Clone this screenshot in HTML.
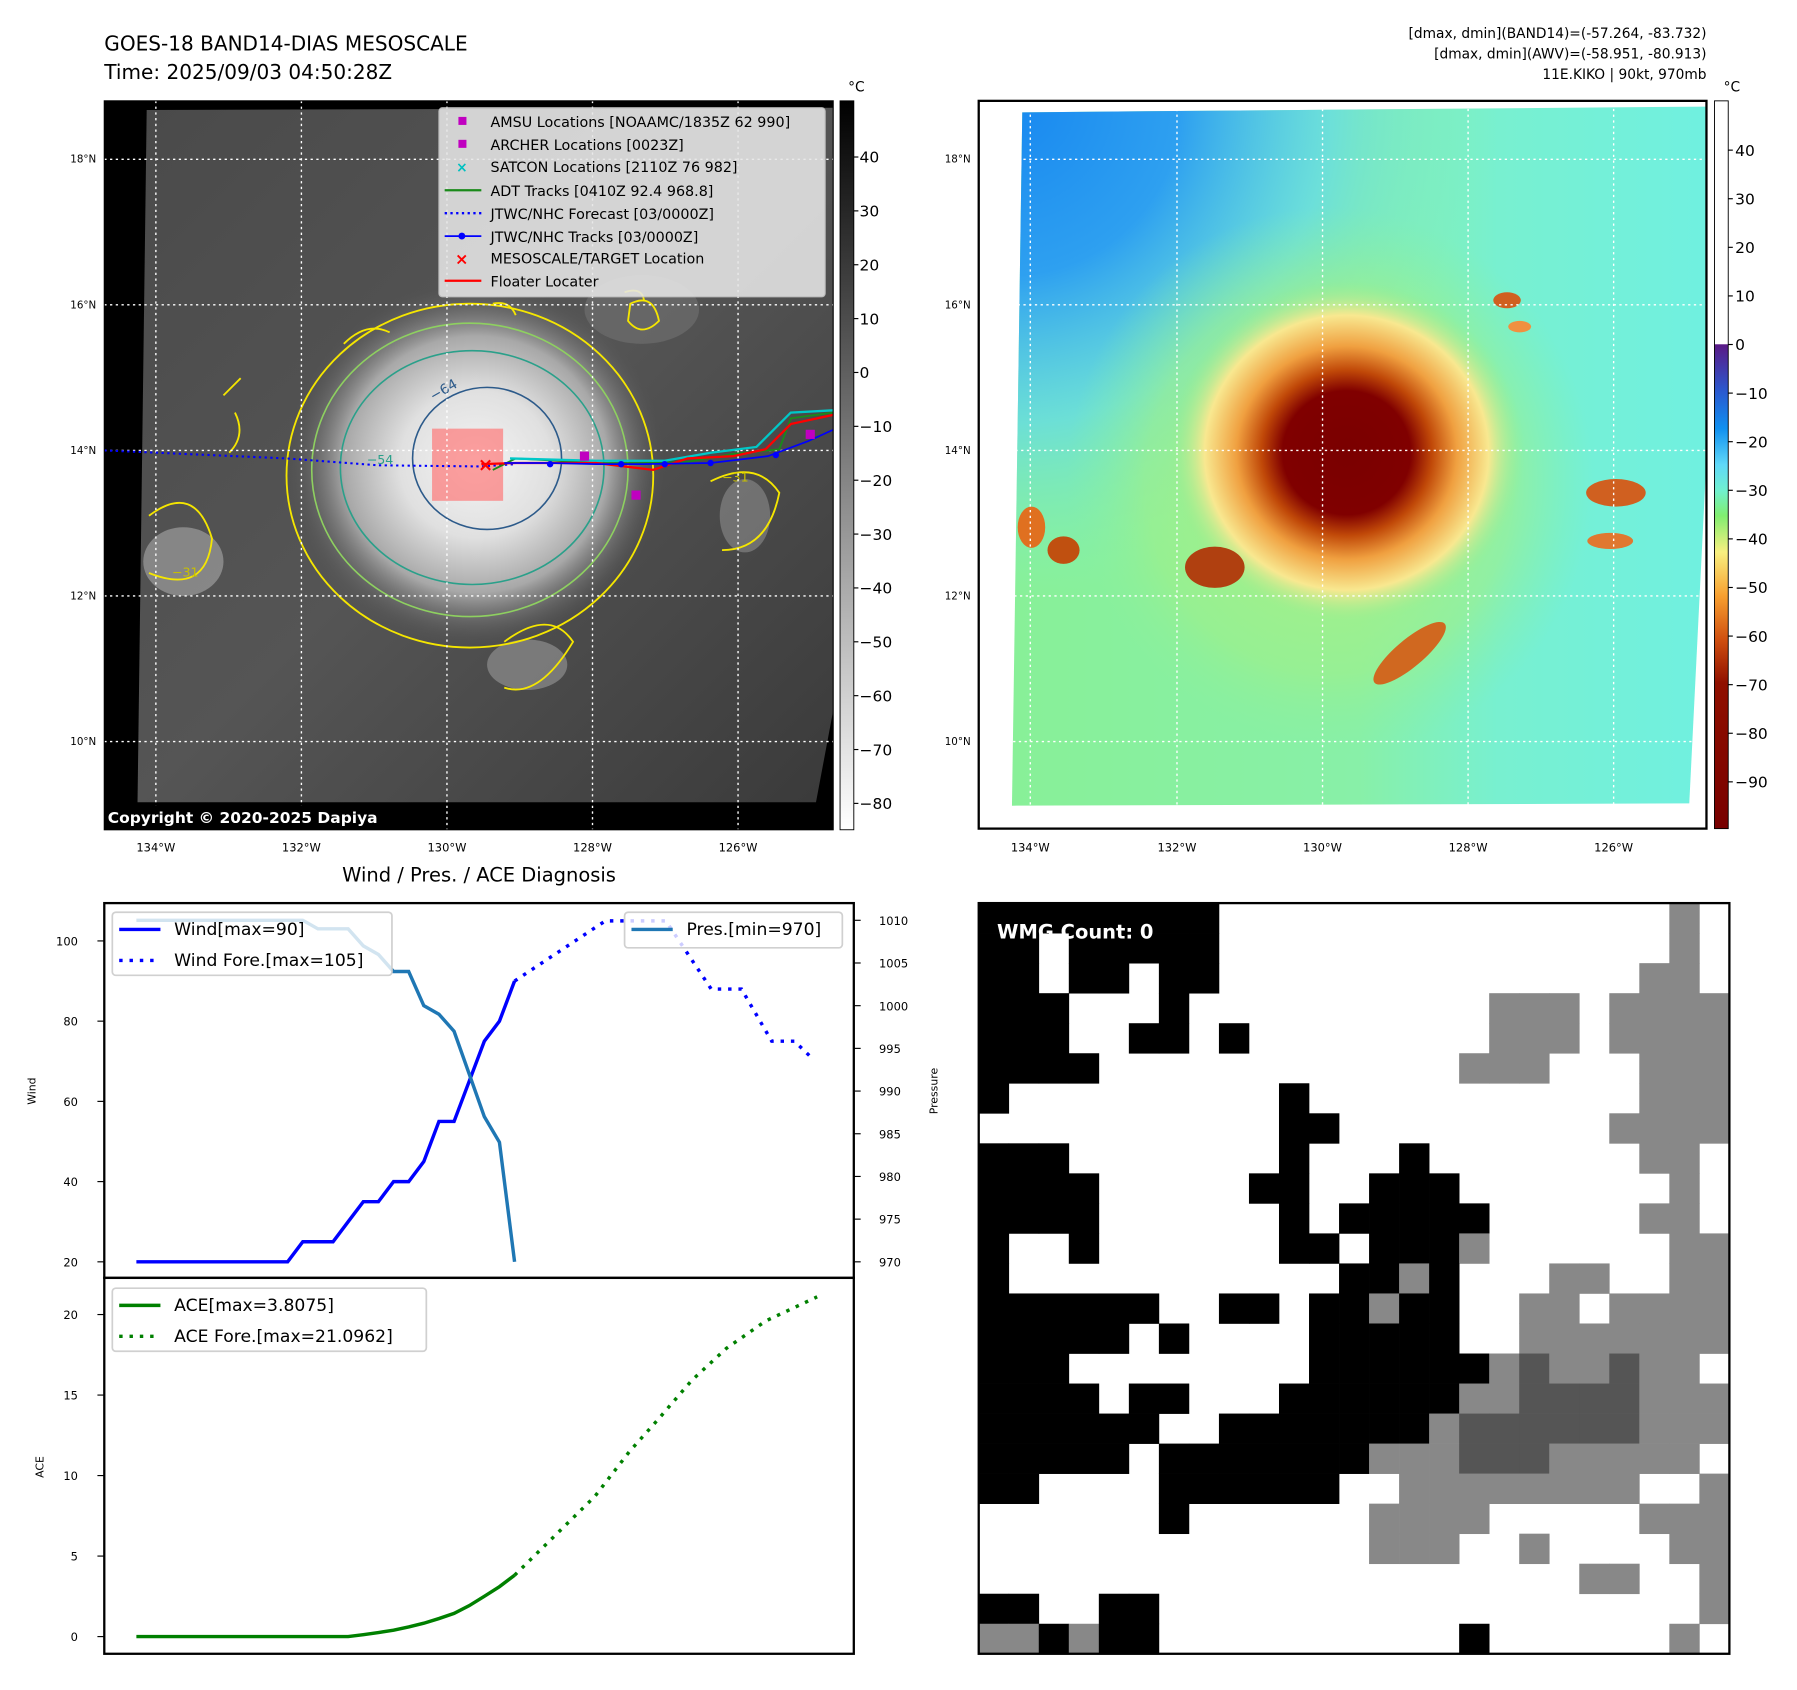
<!DOCTYPE html>
<html><head><meta charset="utf-8"><title>GOES-18 KIKO</title>
<style>
html,body{margin:0;padding:0;background:#fff;}
svg{display:block;font-family:"DejaVu Sans","Liberation Sans",sans-serif;}
</style></head>
<body>
<svg id="root" width="1797" height="1690" viewBox="0 0 1568 1474.6" preserveAspectRatio="none" xmlns="http://www.w3.org/2000/svg">
<defs>
  <linearGradient id="cbGray" x1="0" y1="0" x2="0" y2="1">
    <stop offset="0" stop-color="#000"/><stop offset="1" stop-color="#fff"/>
  </linearGradient>
  <linearGradient id="cbColor" x1="0" y1="0" x2="0" y2="1">
    <stop offset="0" stop-color="#fff"/><stop offset="0.334" stop-color="#fff"/>
    <stop offset="0.335" stop-color="#5a1a86"/>
    <stop offset="0.40" stop-color="#2a5ad0"/>
    <stop offset="0.45" stop-color="#1090f0"/>
    <stop offset="0.50" stop-color="#60d8f8"/>
    <stop offset="0.535" stop-color="#70f0d0"/>
    <stop offset="0.57" stop-color="#80ee70"/>
    <stop offset="0.62" stop-color="#f8f080"/>
    <stop offset="0.68" stop-color="#f8a030"/>
    <stop offset="0.74" stop-color="#d05010"/>
    <stop offset="0.80" stop-color="#901000"/>
    <stop offset="1" stop-color="#780000"/>
  </linearGradient>
  <radialGradient id="cloudGray" cx="0.5" cy="0.5" r="0.5">
    <stop offset="0" stop-color="#f4f4f4"/><stop offset="0.4" stop-color="#e0e0e0"/>
    <stop offset="0.7" stop-color="#a8a8a8"/><stop offset="1" stop-color="#555" stop-opacity="0"/>
  </radialGradient>
  <radialGradient id="stormColor" cx="0.5" cy="0.5" r="0.5">
    <stop offset="0" stop-color="#7a0000"/><stop offset="0.36" stop-color="#800000"/>
    <stop offset="0.48" stop-color="#c04808"/><stop offset="0.62" stop-color="#f0a040"/>
    <stop offset="0.8" stop-color="#f8e890"/><stop offset="1" stop-color="#90ee90" stop-opacity="0"/>
  </radialGradient>
  <radialGradient id="blueCorner" gradientUnits="userSpaceOnUse" cx="880" cy="90" r="430">
    <stop offset="0" stop-color="#1888f0"/><stop offset="0.35" stop-color="#2ea0f0"/>
    <stop offset="0.65" stop-color="#60d8f0" stop-opacity="0.7"/><stop offset="1" stop-color="#80f0c0" stop-opacity="0"/>
  </radialGradient>
  <radialGradient id="greenHalo" cx="0.5" cy="0.5" r="0.5">
    <stop offset="0" stop-color="#b0f080"/><stop offset="0.7" stop-color="#a0f088" stop-opacity="0.6"/><stop offset="1" stop-color="#88f0a0" stop-opacity="0"/>
  </radialGradient>
  <linearGradient id="rightBg" x1="0" y1="0" x2="1" y2="0">
    <stop offset="0" stop-color="#88f098"/><stop offset="0.5" stop-color="#88f0a8"/>
    <stop offset="0.7" stop-color="#78f0d0"/><stop offset="1" stop-color="#70f0e0"/>
  </linearGradient>
  <linearGradient id="leftBg" x1="0" y1="0" x2="1" y2="1">
    <stop offset="0" stop-color="#4a4a4a"/><stop offset="0.5" stop-color="#555"/><stop offset="1" stop-color="#3a3a3a"/>
  </linearGradient>
</defs>

<!-- ===== Top-left map ===== -->
<g>
  <text x="91" y="44" font-size="17.5">GOES-18 BAND14-DIAS MESOSCALE</text>
  <text x="91" y="69" font-size="17.5">Time: 2025/09/03 04:50:28Z</text>
  <rect x="91" y="88" width="636" height="636" fill="#000"/>
  <polygon points="128,96 727,94 727,620 712,700 120,700" fill="url(#leftBg)"/>
  <ellipse cx="560" cy="270" rx="50" ry="30" fill="#777" opacity="0.5"/>
  <ellipse cx="415" cy="405" rx="165" ry="160" fill="url(#cloudGray)"/>
  <ellipse cx="160" cy="490" rx="35" ry="30" fill="#aaa" opacity="0.6"/>
  <ellipse cx="460" cy="580" rx="35" ry="22" fill="#999" opacity="0.6"/>
  <ellipse cx="650" cy="450" rx="22" ry="32" fill="#999" opacity="0.5"/>
  <g fill="none">
    <ellipse cx="410" cy="415" rx="160" ry="150" stroke="#f5e600" stroke-width="1.6"/>
    <ellipse cx="410" cy="410" rx="138" ry="128" stroke="#8ed060" stroke-width="1.4"/>
    <ellipse cx="412" cy="408" rx="115" ry="102" stroke="#2aa08a" stroke-width="1.4"/>
    <ellipse cx="425" cy="400" rx="65" ry="62" stroke="#2c5a8a" stroke-width="1.4"/>
    <path d="M195,345 L210,330 M205,360 Q215,380 200,395 M300,300 Q320,280 340,290 M130,450 Q170,420 185,470 Q180,520 130,500 M440,560 Q480,530 500,560 Q470,610 440,600 M620,420 Q660,400 680,430 Q670,480 630,480" stroke="#f5e600" stroke-width="1.6"/>
    <path d="M550,265 Q570,255 575,280 Q560,295 548,280 Z M430,265 Q445,262 450,275 M545,255 Q560,250 562,262" stroke="#f5e600" stroke-width="1.6"/>
  </g>
  <rect x="377" y="374" width="62" height="63" fill="#ff7070" opacity="0.65"/>
  <text x="378" y="350" font-size="12" fill="#2c5a8a" transform="rotate(-30 378 350)">−64</text>
  <text x="320" y="405" font-size="11" fill="#2aa08a">−54</text>
  <text x="150" y="503" font-size="11" fill="#c8c000">−31</text>
  <text x="630" y="420" font-size="11" fill="#c8c000">−31</text>
  <g stroke="#fff" stroke-width="1.2" stroke-dasharray="2,3">
    <line x1="136" y1="88" x2="136" y2="724"/><line x1="263" y1="88" x2="263" y2="724"/>
    <line x1="390" y1="88" x2="390" y2="724"/><line x1="517" y1="88" x2="517" y2="724"/>
    <line x1="644" y1="88" x2="644" y2="724"/>
    <line x1="91" y1="139" x2="727" y2="139"/><line x1="91" y1="266" x2="727" y2="266"/>
    <line x1="91" y1="393" x2="727" y2="393"/><line x1="91" y1="520" x2="727" y2="520"/>
    <line x1="91" y1="647" x2="727" y2="647"/>
  </g>
  <polyline points="91,393 250,400 330,406 420,407 450,405" fill="none" stroke="#0000ff" stroke-width="1.8" stroke-dasharray="2,3"/>
  <polyline points="430,410 450,400 520,404 560,404 600,403 640,396 680,392 690,365 727,360" fill="none" stroke="#1a8a1a" stroke-width="1.6"/>
  <polyline points="445,400 520,402 580,402 620,395 660,390 690,360 727,358" fill="none" stroke="#00c8c8" stroke-width="2"/>
  <polyline points="420,405 450,404 520,404 570,410 600,400 640,398 668,392 690,370 727,362" fill="none" stroke="#ff0000" stroke-width="2"/>
  <polyline points="440,404 480,404 520,405 560,405 620,404 670,398 705,385 727,375" fill="none" stroke="#0000ff" stroke-width="1.5"/>
  <g fill="#0000ff"><circle cx="480" cy="405" r="2.8"/><circle cx="542" cy="405" r="2.8"/><circle cx="580" cy="405" r="2.8"/><circle cx="620" cy="404" r="2.8"/><circle cx="677" cy="397" r="2.8"/></g>
  <g fill="#c000c0"><rect x="506" y="394" width="8" height="8"/><rect x="551" y="428" width="8" height="8"/><rect x="703" y="375" width="8" height="8"/></g>
  <text x="417" y="411" font-size="16" font-weight="bold" fill="#ff0000">×</text>
  <g>
    <rect x="383" y="94" width="337" height="165" rx="3" fill="#e6e6e6" opacity="0.88" stroke="#ccc"/>
    <g font-size="12.5" fill="#000">
      <rect x="400" y="102" width="7" height="7" fill="#c000c0"/><text x="428" y="111">AMSU Locations [NOAAMC/1835Z 62 990]</text>
      <rect x="400" y="122" width="7" height="7" fill="#c000c0"/><text x="428" y="131">ARCHER Locations [0023Z]</text>
      <text x="398" y="150" fill="#00c0c0" font-size="12" font-weight="bold">×</text><text x="428" y="150">SATCON Locations [2110Z 76 982]</text>
      <line x1="388" y1="166" x2="420" y2="166" stroke="#1a8a1a" stroke-width="2"/><text x="428" y="171">ADT Tracks [0410Z 92.4 968.8]</text>
      <line x1="388" y1="186" x2="420" y2="186" stroke="#0000ff" stroke-width="2" stroke-dasharray="2,3"/><text x="428" y="191">JTWC/NHC Forecast [03/0000Z]</text>
      <line x1="388" y1="206" x2="420" y2="206" stroke="#0000ff" stroke-width="1.5"/><circle cx="403" cy="206" r="3" fill="#0000ff"/><text x="428" y="211">JTWC/NHC Tracks [03/0000Z]</text>
      <text x="397" y="231" fill="#ff0000" font-size="14" font-weight="bold">×</text><text x="428" y="230">MESOSCALE/TARGET Location</text>
      <line x1="388" y1="245" x2="420" y2="245" stroke="#ff0000" stroke-width="2"/><text x="428" y="250">Floater Locater</text>
    </g>
  </g>
  <rect x="91" y="703" width="270" height="21" fill="#000"/>
  <text x="94" y="718" font-size="13.5" font-weight="bold" fill="#fff">Copyright © 2020-2025 Dapiya</text>
  <rect x="91" y="88" width="636" height="636" fill="none" stroke="#000" stroke-width="1"/>
  <g font-size="9" text-anchor="end">
    <text x="84" y="142">18°N</text><text x="84" y="269">16°N</text><text x="84" y="396">14°N</text><text x="84" y="523">12°N</text><text x="84" y="650">10°N</text>
  </g>
  <g font-size="10" text-anchor="middle">
    <text x="136" y="743">134°W</text><text x="263" y="743">132°W</text><text x="390" y="743">130°W</text><text x="517" y="743">128°W</text><text x="644" y="743">126°W</text>
  </g>
  <g>
    <rect x="733" y="88" width="12" height="636" fill="url(#cbGray)" stroke="#000" stroke-width="0.8"/>
    <text x="740" y="80" font-size="12">°C</text>
    <g font-size="13.5" fill="#000" id="cbGrayLabels"></g>
  </g>
</g>

<!-- ===== Top-right map ===== -->
<g>
  <g font-size="12" text-anchor="end">
    <text x="1489" y="33">[dmax, dmin](BAND14)=(-57.264, -83.732)</text>
    <text x="1489" y="51">[dmax, dmin](AWV)=(-58.951, -80.913)</text>
    <text x="1489" y="69">11E.KIKO | 90kt, 970mb</text>
  </g>
  <rect x="854" y="88" width="635" height="635" fill="#fff"/>
  <polygon points="892,98 1489,93 1489,400 1474,701 883,703" fill="url(#rightBg)"/>
  <polygon points="892,98 1489,93 1489,400 1474,701 883,703" fill="url(#blueCorner)"/>
  <ellipse cx="1160" cy="420" rx="230" ry="240" fill="url(#greenHalo)"/>
  <ellipse cx="1175" cy="395" rx="155" ry="150" fill="url(#stormColor)"/>
  <ellipse cx="1060" cy="495" rx="26" ry="18" fill="#b04010"/>
  <ellipse cx="1230" cy="570" rx="40" ry="12" transform="rotate(-40 1230 570)" fill="#d06820"/>
  <ellipse cx="1410" cy="430" rx="26" ry="12" fill="#d06020"/>
  <ellipse cx="1405" cy="472" rx="20" ry="7" fill="#e07830"/>
  <ellipse cx="1315" cy="262" rx="12" ry="7" fill="#d06020"/>
  <ellipse cx="1326" cy="285" rx="10" ry="5" fill="#f09040"/>
  <ellipse cx="928" cy="480" rx="14" ry="12" fill="#c05010"/>
  <ellipse cx="900" cy="460" rx="12" ry="18" fill="#e07020"/>
  <g stroke="#fff" stroke-width="1.2" stroke-dasharray="2,3">
    <line x1="899" y1="95" x2="899" y2="703"/><line x1="1027" y1="95" x2="1027" y2="703"/>
    <line x1="1154" y1="95" x2="1154" y2="703"/><line x1="1281" y1="95" x2="1281" y2="703"/>
    <line x1="1408" y1="95" x2="1408" y2="703"/>
    <line x1="888" y1="139" x2="1489" y2="139"/><line x1="888" y1="266" x2="1489" y2="266"/>
    <line x1="886" y1="393" x2="1489" y2="393"/><line x1="885" y1="520" x2="1489" y2="520"/>
    <line x1="884" y1="647" x2="1480" y2="647"/>
  </g>
  <rect x="854" y="88" width="635" height="635" fill="none" stroke="#000" stroke-width="2"/>
  <g font-size="9" text-anchor="end">
    <text x="847" y="142">18°N</text><text x="847" y="269">16°N</text><text x="847" y="396">14°N</text><text x="847" y="523">12°N</text><text x="847" y="650">10°N</text>
  </g>
  <g font-size="10" text-anchor="middle">
    <text x="899" y="743">134°W</text><text x="1027" y="743">132°W</text><text x="1154" y="743">130°W</text><text x="1281" y="743">128°W</text><text x="1408" y="743">126°W</text>
  </g>
  <g>
    <rect x="1496" y="88" width="12" height="635" fill="url(#cbColor)" stroke="#000" stroke-width="0.8"/>
    <text x="1504" y="80" font-size="12">°C</text>
    <g font-size="13.5" fill="#000" id="cbColorLabels"></g>
  </g>
</g>

<!-- ===== Bottom-left chart ===== -->
<g id="diag">
  <text x="418" y="769" font-size="17" text-anchor="middle">Wind / Pres. / ACE Diagnosis</text>
</g>

<!-- ===== Bottom-right WMG grid ===== -->
<g id="wmg"></g>
</svg>

<script>
const windIdx = [0,1,2,3,4,5,6,7,8,9,10,11,12,13,14,15,16,17,18,19,20,21,22,23,24,25];
const windVals = [20,20,20,20,20,20,20,20,20,20,20,25,25,25,30,35,35,40,40,45,55,55,65,75,80,90];
const windFcstIdx = [25,27,29,31,35,38,40,42,43.5,44.6];
const windFcstVals = [90,95,100,105,105,88,88,75,75,71];
const presIdx = [0,11,12,14,15,16,17,18,19,20,21,22,23,24,25];
const presVals = [1010,1010,1009,1009,1007,1006,1004,1004,1000,999,997,992,987,984,970];
const aceIdx = [0,14,15,16,17,18,19,20,21,22,23,24,25];
const aceVals = [0,0,0.12,0.25,0.4,0.6,0.83,1.12,1.44,1.92,2.5,3.1,3.81];
const aceFcstIdx = [25,27.7,30.3,32.6,34.5,36.7,39,41.6,45];
const aceFcstVals = [3.81,6.3,8.7,11.5,13.5,15.9,17.9,19.6,21.1];
const windTicks = [20,40,60,80,100];
const presTicks = [970,975,980,985,990,995,1000,1005,1010];
const aceTicks = [0,5,10,15,20];
const grayCbTicks = [40,30,20,10,0,-10,-20,-30,-40,-50,-60,-70,-80];
const colorCbTicks = [40,30,20,10,0,-10,-20,-30,-40,-50,-60,-70,-80,-90];

const NS = 'http://www.w3.org/2000/svg';
function mk(tag, attrs, parent){const e=document.createElementNS(NS,tag);for(const k in attrs)e.setAttribute(k,attrs[k]);parent.appendChild(e);return e;}

const xS = i => 119 + i*13.2;
const yWind = v => 821 + (100-v)*3.5;
const yPres = v => 803 + (1010-v)*7.45;
const yAce = v => 1428 - v*14.05;

const gcb = document.getElementById('cbGrayLabels');
grayCbTicks.forEach(v=>{const y=137+(40-v)*4.7;
  mk('line',{x1:745,y1:y,x2:749,y2:y,stroke:'#000'},gcb);
  const t=mk('text',{x:750,y:y+5},gcb);t.textContent=(v<0?'\u2212':'')+Math.abs(v);
  
  });
const ccb = document.getElementById('cbColorLabels');
colorCbTicks.forEach(v=>{const y=131+(40-v)*4.24;
  mk('line',{x1:1508,y1:y,x2:1512,y2:y,stroke:'#000'},ccb);
  const t=mk('text',{x:1514,y:y+5},ccb);t.textContent=(v<0?'\u2212':'')+Math.abs(v);
  
  });

const g = document.getElementById('diag');
mk('rect',{x:91,y:788,width:654,height:327,fill:'none',stroke:'#000','stroke-width':2},g);
mk('rect',{x:91,y:1115,width:654,height:328,fill:'none',stroke:'#000','stroke-width':2},g);
function pts(xs,ys,fy){return xs.map((x,i)=>xS(x)+','+fy(ys[i])).join(' ');}
windTicks.forEach(v=>{const y=yWind(v);mk('line',{x1:85,y1:y,x2:91,y2:y,stroke:'#000'},g);
  const t=mk('text',{x:68,y:y+4,'font-size':10,'text-anchor':'end'},g);t.textContent=v;
  
  });
presTicks.forEach(v=>{const y=yPres(v);mk('line',{x1:745,y1:y,x2:751,y2:y,stroke:'#000'},g);
  const t=mk('text',{x:767,y:y+4,'font-size':10},g);t.textContent=v;
  
  });
aceTicks.forEach(v=>{const y=yAce(v);mk('line',{x1:85,y1:y,x2:91,y2:y,stroke:'#000'},g);
  const t=mk('text',{x:68,y:y+4,'font-size':10,'text-anchor':'end'},g);t.textContent=v;
  
  });
let t;
t=mk('text',{x:31,y:952,'font-size':9.5,'text-anchor':'middle',transform:'rotate(-90 31 952)'},g);t.textContent='Wind';


t=mk('text',{x:818,y:952,'font-size':9.5,'text-anchor':'middle',transform:'rotate(-90 818 952)'},g);t.textContent='Pressure';


t=mk('text',{x:38,y:1280,'font-size':9.5,'text-anchor':'middle',transform:'rotate(-90 38 1280)'},g);t.textContent='ACE';


let p;
p=mk('polyline',{points:pts(windIdx,windVals,yWind),fill:'none',stroke:'#0000ff','stroke-width':3},g);


p=mk('polyline',{points:pts(windFcstIdx,windFcstVals,yWind),fill:'none',stroke:'#0000ff','stroke-width':3,'stroke-dasharray':'3,6'},g);


p=mk('polyline',{points:pts(presIdx,presVals,yPres),fill:'none',stroke:'#1f77b4','stroke-width':3},g);


p=mk('polyline',{points:pts(aceIdx,aceVals,yAce),fill:'none',stroke:'#008000','stroke-width':3},g);


p=mk('polyline',{points:pts(aceFcstIdx,aceFcstVals,yAce),fill:'none',stroke:'#008000','stroke-width':3,'stroke-dasharray':'3,6'},g);


function legend(x,y,w,h,items,name){
  const lg=mk('g',{},g);
  
  
  mk('rect',{x:x,y:y,width:w,height:h,rx:3,fill:'#fff','fill-opacity':0.8,stroke:'#d0d0d0','stroke-width':1.5},lg);
  items.forEach((it,i)=>{const yy=y+15+i*27;
    const a={x1:x+6,y1:yy,x2:x+42,y2:yy,stroke:it.c,'stroke-width':3};if(it.d)a['stroke-dasharray']='3,6';
    mk('line',a,lg);
    const tt=mk('text',{x:x+54,y:yy+5,'font-size':15},lg);tt.textContent=it.t;});
}
legend(98,796,244,55,[{c:'#0000ff',t:'Wind[max=90]'},{c:'#0000ff',t:'Wind Fore.[max=105]',d:1}],'wind-legend');
legend(545,796,190,31,[{c:'#1f77b4',t:'Pres.[min=970]'}],'pressure-legend');
legend(98,1124,274,55,[{c:'#008000',t:'ACE[max=3.8075]'},{c:'#008000',t:'ACE Fore.[max=21.0962]',d:1}],'ace-legend');

const wmgRows = [
"########...............g.",
"##.#####...............g.",
"##.##.##..............gg.",
"###...#..........ggg.gggg",
"###..##.#........ggg.gggg",
"####............ggg...ggg",
"#.........#...........ggg",
"..........##.........gggg",
"###.......#...#.......gg.",
"####.....##..###.......g.",
"####......#.#####.....gg.",
"#..#......##.###g......gg",
"#...........##g#...gg..gg",
"######..##.##g##..gg.gggg",
"#####.#....#####..ggggggg",
"###........######gdggdgg.",
"####.##...######ggddddggg",
"######..#######gddddddggg",
"#####.#######gggdddggggg.",
"##....######..gggggggg..g",
"......#......gggg.....ggg",
".............ggg..g....gg",
"....................gg..g",
"##..##..................g",
"gg#g##..........#......g."
];
const wg=document.getElementById('wmg');
const cs=655/25;
mk('rect',{x:854,y:788,width:655,height:655,fill:'#fff'},wg);
const colors={'#':'#000','g':'#888','d':'#555'};
wmgRows.forEach((row,r)=>{[...row].forEach((ch,c)=>{if(colors[ch]){
  mk('rect',{x:(854+c*cs).toFixed(2),y:(788+r*cs).toFixed(2),width:(cs+0.3).toFixed(2),height:(cs+0.3).toFixed(2),fill:colors[ch]},wg);}});});
mk('rect',{x:854,y:788,width:655,height:655,fill:'none',stroke:'#000','stroke-width':2},wg);
t=mk('text',{x:870,y:819,'font-size':17,'font-weight':'bold',fill:'#fff'},wg);t.textContent='WMG Count: 0';


</script>
</body></html>
